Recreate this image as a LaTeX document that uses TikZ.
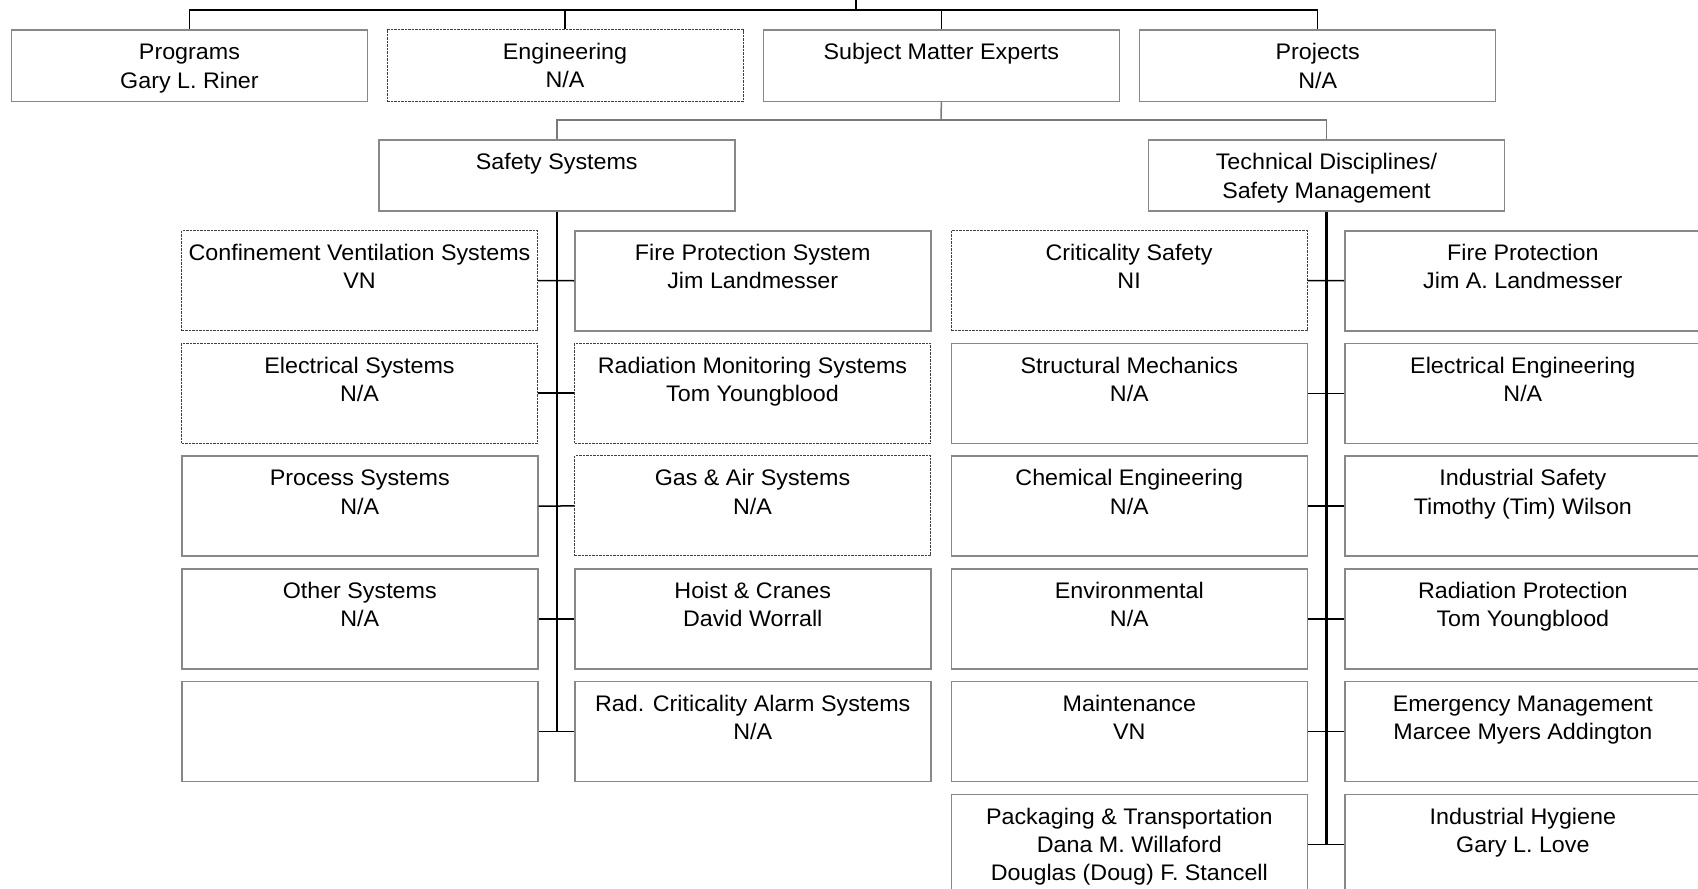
\documentclass[tikz,border=0pt]{standalone}
\usepackage{fontspec}
\setmainfont{Liberation Sans}[FakeStretch=1.035]
\definecolor{boxgray}{HTML}{888888}
\definecolor{dashgray}{HTML}{404040}
\definecolor{linegray}{HTML}{7A7A7A}
\newcommand{\orgbox}[6][box]{\node[#1] (#2) at (#3,#4) {\parbox[t][#5pt][t]{356pt}{\centering\rule{0pt}{29.8pt}#6}};}
\begin{document}
\begin{tikzpicture}[x=1pt,y=-1pt,
  box/.style={draw=boxgray, line width=1.5pt, fill=white, inner sep=0pt, anchor=north west,
    font=\fontsize{22.5}{28.3}\selectfont},
  dbox/.style={box, draw=dashgray, line width=1pt, dash pattern=on 2.5pt off 1pt},
  conn/.style={draw=black, line width=1.6pt},
  topbar/.style={draw=black, line width=2pt},
  gconn/.style={draw=linegray, line width=1.5pt},
  vconn/.style={draw=black, line width=2.2pt},
  hconn/.style={draw=black, line width=1.5pt}]
\useasboundingbox (0,0) rectangle (1698,889);
\fill[white] (0,0) rectangle (1698,889);
\clip (0,0) rectangle (1698,889);
% row 1
\orgbox{prog}{10.7}{29.3}{71.4}{Programs\\Gary L. Riner}
\orgbox[dbox]{eng}{386.5}{29.3}{71.4}{Engineering\\N/A}
\orgbox{sme}{762.6}{29.3}{71.4}{Subject Matter Experts}
\orgbox{proj}{1138.9}{29.3}{71.4}{Projects\\N/A}
% row 2
\orgbox{ss}{378}{139.3}{70.7}{Safety Systems}
\orgbox{td}{1147.7}{139.3}{70.7}{Technical Disciplines/\\Safety Management}
% column A
\orgbox[dbox]{a1}{181}{230}{100}{Confinement Ventilation Systems\\VN}
\orgbox[dbox]{a2}{181}{342.7}{100}{Electrical Systems\\N/A}
\orgbox{a3}{181}{455.4}{100}{Process Systems\\N/A}
\orgbox{a4}{181}{568.1}{100}{Other Systems\\N/A}
\orgbox{a5}{181}{680.8}{100}{}
% column B
\orgbox{b1}{574}{230}{100}{Fire Protection System\\Jim Landmesser}
\orgbox[dbox]{b2}{574}{342.7}{100}{Radiation Monitoring Systems\\Tom Youngblood}
\orgbox[dbox]{b3}{574}{455.4}{100}{Gas \& Air Systems\\N/A}
\orgbox{b4}{574}{568.1}{100}{Hoist \& Cranes\\David Worrall}
\orgbox{b5}{574}{680.8}{100}{Rad. Criticality Alarm Systems\\N/A}
% column C
\orgbox[dbox]{c1}{950.6}{230}{100}{Criticality Safety\\NI}
\orgbox{c2}{950.6}{342.7}{100}{Structural Mechanics\\N/A}
\orgbox{c3}{950.6}{455.4}{100}{Chemical Engineering\\N/A}
\orgbox{c4}{950.6}{568.1}{100}{Environmental\\N/A}
\orgbox{c5}{950.6}{680.8}{100}{Maintenance\\VN}
\orgbox{c6}{950.6}{793.5}{100}{Packaging \& Transportation\\Dana M. Willaford\\Douglas (Doug) F. Stancell}
% column D
\orgbox{d1}{1344.1}{230}{100}{Fire Protection\\Jim A. Landmesser}
\orgbox{d2}{1344.1}{342.7}{100}{Electrical Engineering\\N/A}
\orgbox{d3}{1344.1}{455.4}{100}{Industrial Safety\\Timothy (Tim) Wilson}
\orgbox{d4}{1344.1}{568.1}{100}{Radiation Protection\\Tom Youngblood}
\orgbox{d5}{1344.1}{680.8}{100}{Emergency Management\\Marcee Myers Addington}
\orgbox{d6}{1344.1}{793.5}{100}{Industrial Hygiene\\Gary L. Love}
% top connectors
\coordinate (root) at (856,0);
\coordinate (top) at (856,10);
\coordinate (bar2) at (941,120);
\draw[vconn, line width=2.4pt] (root) -- (top);
\draw[conn] (prog.north) -- (prog.north |- top);
\draw[conn] (eng.north) -- (eng.north |- top);
\draw[conn] (sme.north) -- (sme.north |- top);
\draw[conn] (proj.north) -- (proj.north |- top);
\draw[topbar] (prog.north |- top) -- (proj.north |- top);
% second level
\draw[gconn] (sme.south) -- (bar2);
\draw[gconn] (ss.north) -- (ss.north |- bar2) -- (td.north |- bar2) -- (td.north);
% safety systems children
\draw[vconn] (ss.south) -- (ss.south |- b5.west);
\foreach \i in {1,...,5} {\draw[hconn] (a\i.east) -- (b\i.west);}
% technical disciplines children
\draw[vconn] (td.south) -- (td.south |- d6.west);
\foreach \i in {1,...,6} {\draw[hconn] (c\i.east) -- (d\i.west);}
\end{tikzpicture}
\end{document}
